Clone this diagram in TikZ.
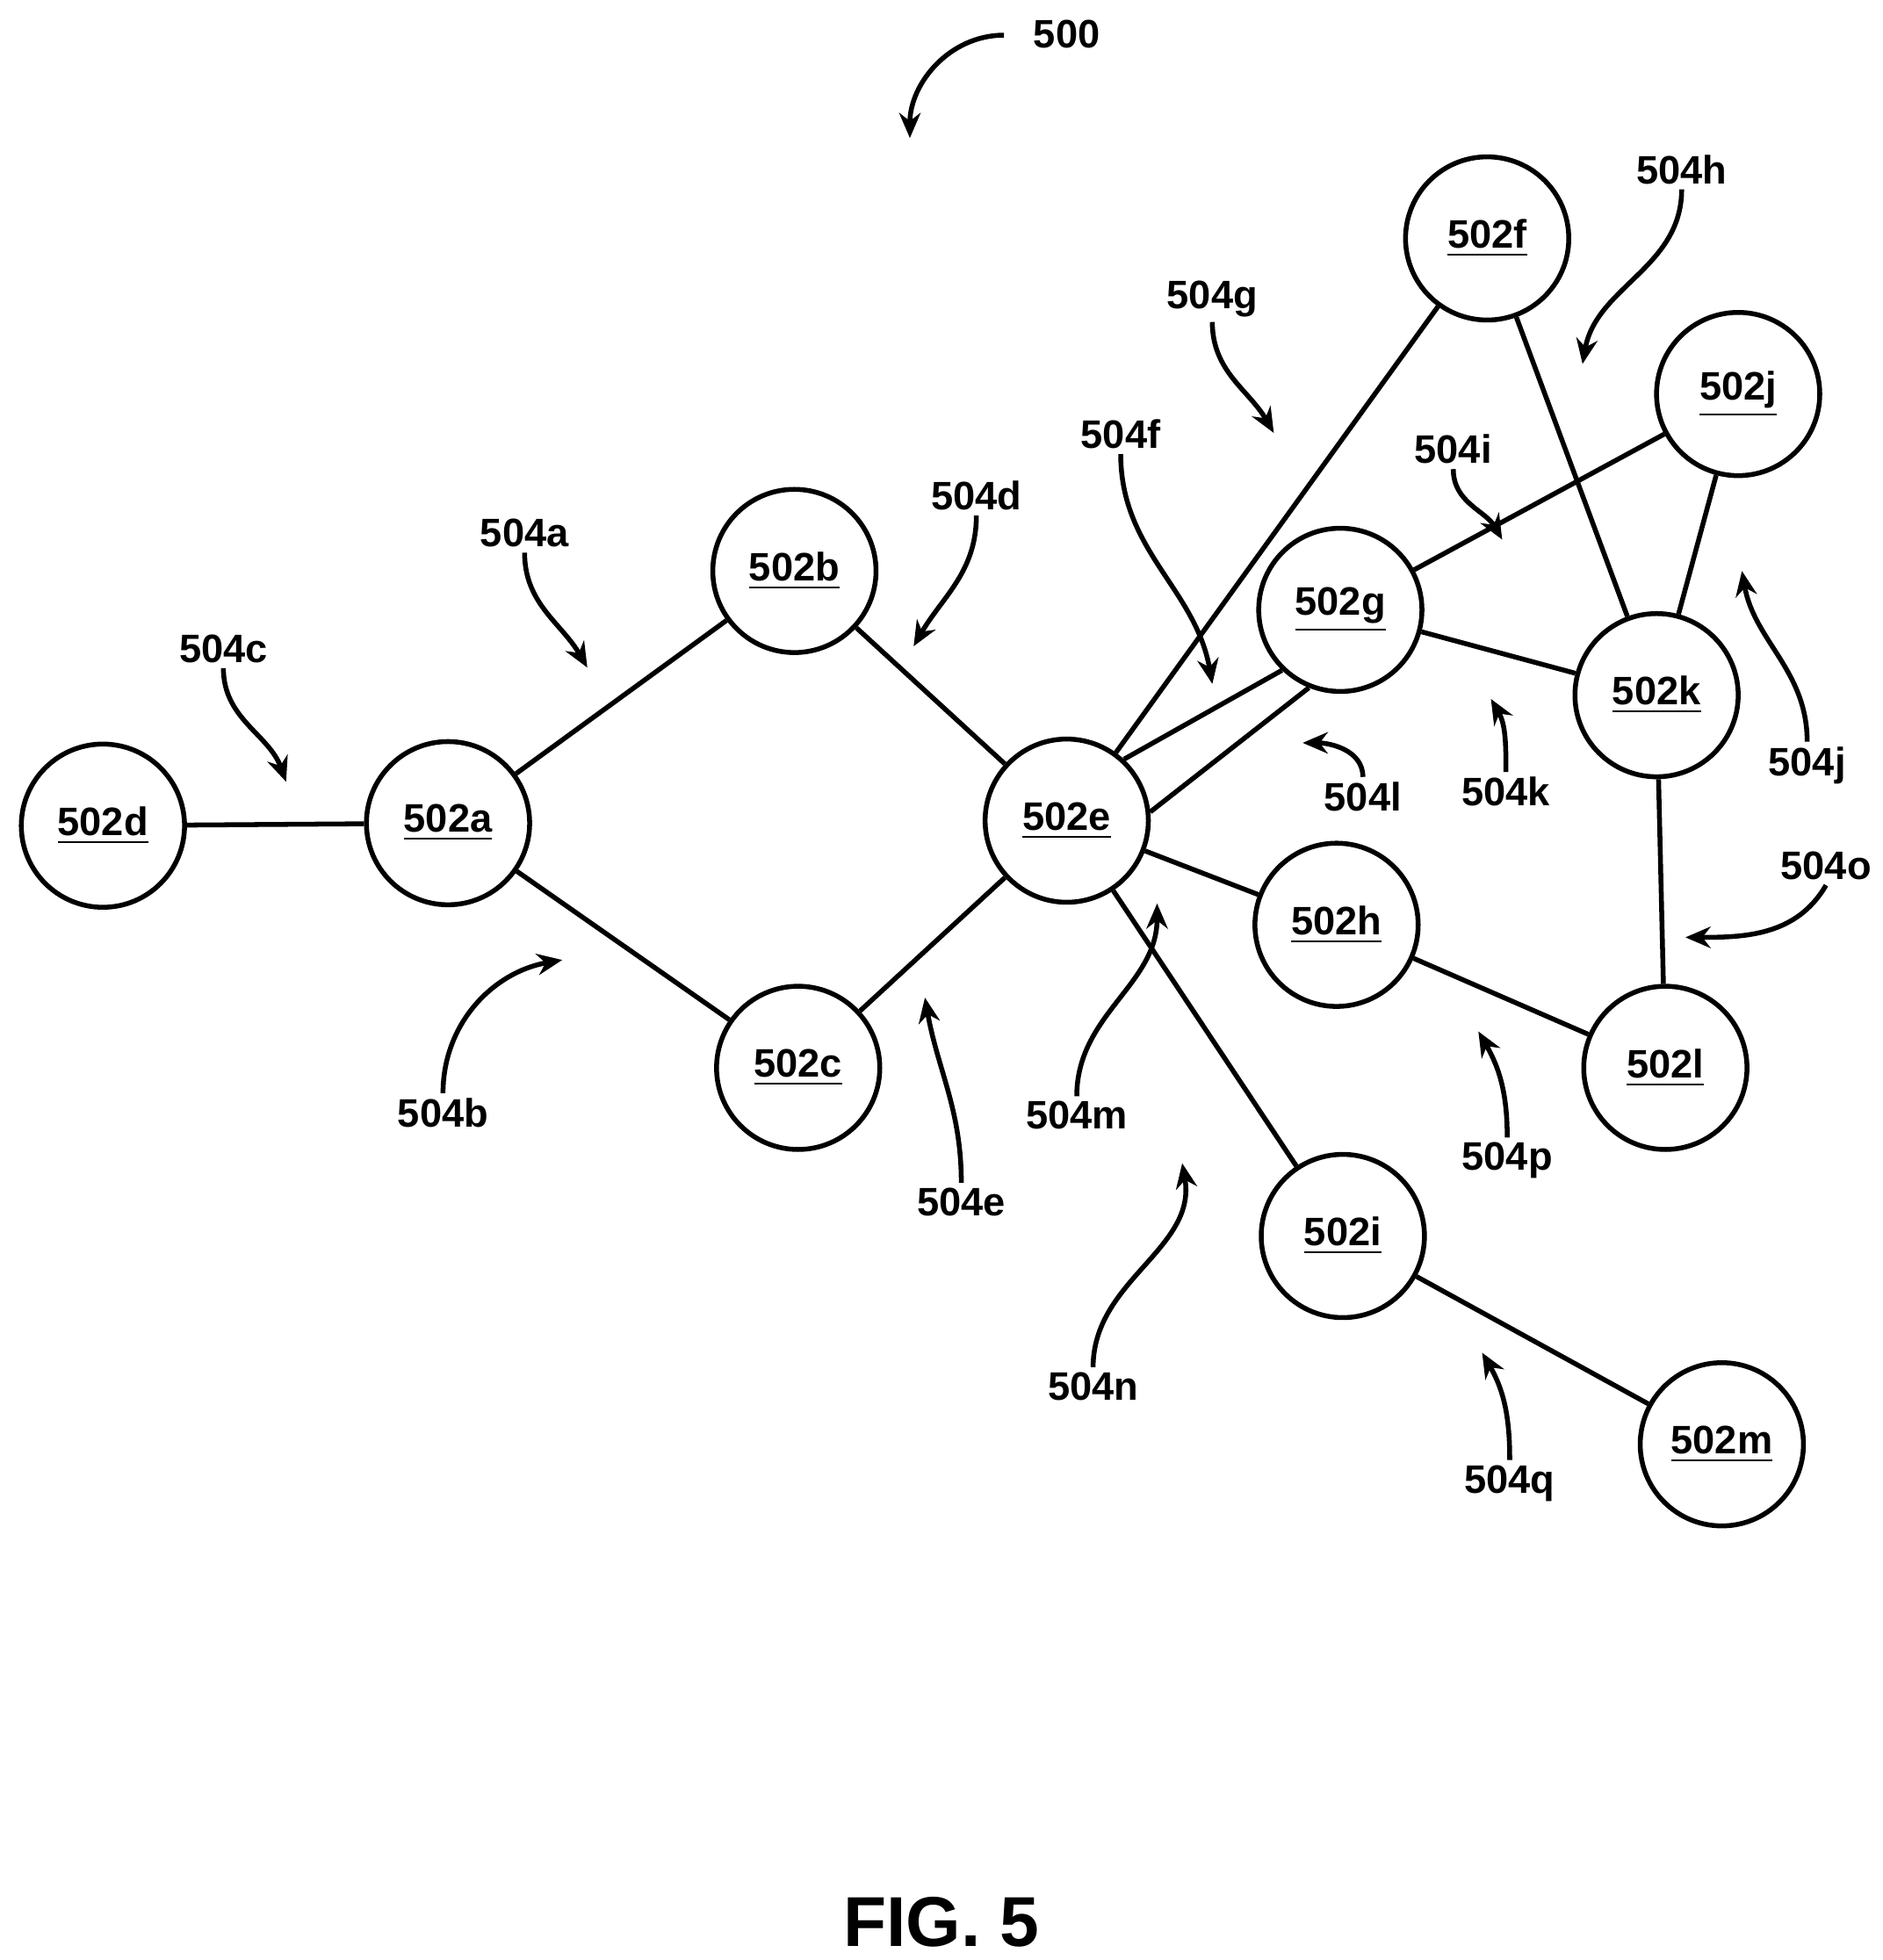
\documentclass[tikz,border=0pt]{standalone}
\usepackage{fontspec}
\setmainfont{Liberation Sans}
\usetikzlibrary{arrows.meta}

\tikzset{
  peer/.style={draw, circle, line width=1.1pt, minimum size=1.3cm, inner sep=0pt,
    font=\fontsize{9}{10}\selectfont\bfseries},
  link/.style={line width=1.1pt},
  tag/.style={font=\fontsize{9}{10}\selectfont\bfseries, inner sep=1pt},
  lead/.style={line width=1.1pt, -{Stealth[length=2mm,width=1.7mm]}}
}

\begin{document}
\begin{tikzpicture}[x=0.01cm,y=0.01cm]
  \useasboundingbox (0,0) rectangle (1500,-1562);
  % peers
  \foreach \n/\x/\y in {d/82/658, a/357/656, b/633/455, c/636/851, e/850/654,
      f/1185/190, j/1385/314, g/1068/486, k/1320/554, h/1065/737,
      l/1327/851, i/1070/985, m/1372/1151}
    \node[peer] (\n) at (\x,-\y) {\underline{502\n}};
  % links
  \draw[link] (d) -- (a);
  \draw[link] (a) -- (b);
  \draw[link] (a) -- (c);
  \draw[link] (b) -- (e);
  \draw[link] (c) -- (e);
  \draw[link] (e) -- (f);
  \draw[link] (f) -- (k);
  \draw[link] (e.47) -- (g.226);
  \draw[link] (e.6) -- (g.248);
  \draw[link] (g) -- (j);
  \draw[link] (g) -- (k);
  \draw[link] (k) -- (j);
  \draw[link] (k) -- (l);
  \draw[link] (e) -- (h);
  \draw[link] (h) -- (l);
  \draw[link] (e) -- (i);
  \draw[link] (i) -- (m);
  % reference numerals
  \node[tag] (t500) at (850,-27) {500};
  \foreach \n/\x/\y in {a/418/425, b/353/887, c/178/517, d/778/395, e/766/958,
      f/893/346, g/966/238, h/1340/135, i/1158/358, j/1440/610, k/1200/631,
      l/1086/635, m/858/889, n/871/1105, o/1455/690, p/1201/925, q/1203/1182}
    \node[tag] (t\n) at (\x,-\y) {504\n};
  \coordinate (p500) at (725,-110);
  \draw[lead] (800,-28) to[out=180,in=90] (p500);
  \draw[lead] (ta.south) to[out=-90,in=120] (468,-532);
  \draw[lead] (tb.north) to[out=90,in=190] (448,-765);
  \draw[lead] (tc.south) to[out=-90,in=110] (228,-623);
  \draw[lead] (td.south) to[out=-90,in=60] (728,-515);
  \draw[lead] (te.north) to[out=90,in=-80] (737,-795);
  \draw[lead] (tf.south) to[out=-90,in=100] (966,-545);
  \draw[lead] (tg.south) to[out=-90,in=120] (1015,-345);
  \draw[lead] (th.south) to[out=-90,in=80] (1261,-290);
  \draw[lead] (ti.south) to[out=-90,in=120] (1197,-430);
  \draw[lead] (tj.north) to[out=90,in=-80] (1388,-455);
  \draw[lead] (tk.north) to[out=90,in=-60] (1188,-557);
  \draw[lead] (tl.north) to[out=90,in=0] (1038,-592);
  \draw[lead] (tm.north) to[out=90,in=-90] (922,-720);
  \draw[lead] (tn.north) to[out=90,in=-80] (942,-927);
  \draw[lead] (to.south) to[out=-120,in=0] (1343,-747);
  \draw[lead] (tp.north) to[out=90,in=-60] (1178,-822);
  \draw[lead] (tq.north) to[out=90,in=-60] (1181,-1078);
  \node[font=\fontsize{16}{18}\selectfont\bfseries] (fig) at (750,-1532) {FIG. 5};
\end{tikzpicture}
\end{document}
